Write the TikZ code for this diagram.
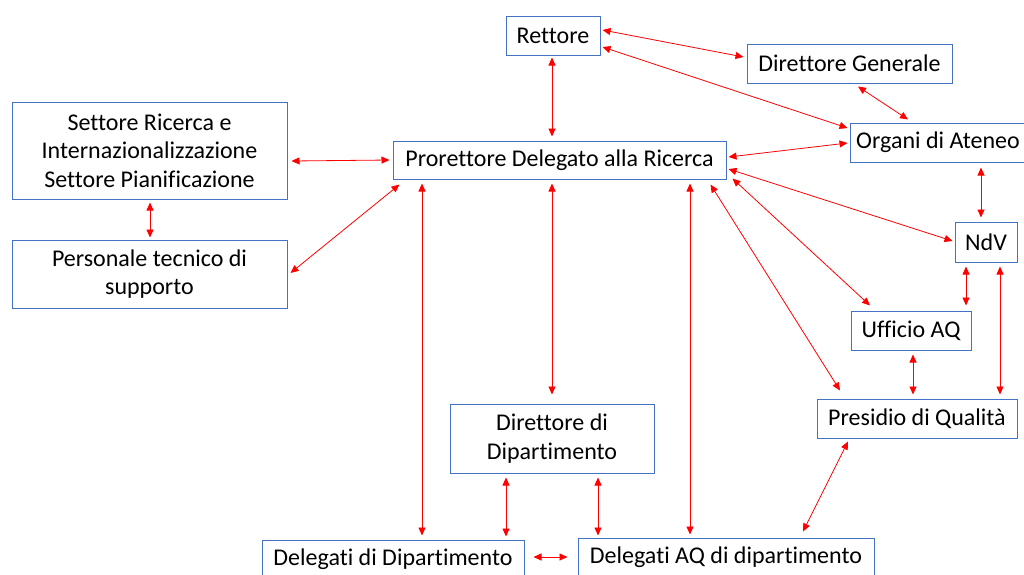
\documentclass[tikz,border=0pt]{standalone}
\usepackage{fontspec}
\setmainfont{Carlito}[Ligatures=NoCommon]
\usetikzlibrary{arrows.meta,calc}
\definecolor{boxblue}{RGB}{68,114,196}
\definecolor{arrred}{RGB}{255,0,0}
\tikzset{
  box/.style={draw=boxblue, line width=1pt, rectangle, inner sep=0pt, align=center,
    font=\fontsize{24}{28.5}\selectfont, text=black},
  link/.style={draw=arrred, line width=0.8pt,
    {Triangle[length=8pt,width=7pt]}-{Triangle[length=8pt,width=7pt]}}
}
\begin{document}
\begin{tikzpicture}[x=1pt,y=-1pt]
\useasboundingbox (0,0) rectangle (1024,574);
\clip (0,0) rectangle (1024,574);
\node[box, minimum width=94pt, minimum height=39pt] (rett) at (553,35.5) {Rettore};
\node[box, minimum width=205pt, minimum height=39pt] (dg) at (849.5,63.5) {Direttore Generale};
\node[box, minimum width=180pt, minimum height=39pt] (org) at (940,142.5) {Organi di Ateneo\hspace*{4pt}};
\node[box, minimum width=333pt, minimum height=38pt] (pro) at (559.5,160) {Prorettore Delegato alla Ricerca};
\node[box, minimum width=275pt, minimum height=97pt] (set) at (149.5,150.5) {Settore Ricerca e\\Internazionalizzazione\\Settore Pianificazione};
\node[box, minimum width=275pt, minimum height=68pt] (pers) at (149.5,274) {Personale tecnico di\\supporto};
\node[box, minimum width=62pt, minimum height=40pt] (ndv) at (986,242) {NdV};
\node[box, minimum width=120pt, minimum height=39pt] (uff) at (911,330.5) {Ufficio AQ};
\node[box, minimum width=200pt, minimum height=39pt] (pres) at (917,418.5) {Presidio di Qualità};
\node[box, minimum width=204pt, minimum height=69pt] (dir) at (552,438.5) {Direttore di\\Dipartimento};
\node[box, minimum width=262pt, minimum height=39pt] (dd) at (393,559.5) {Delegati di Dipartimento};
\node[box, minimum width=296pt, minimum height=39pt] (daq) at (726,557.5) {Delegati AQ di dipartimento};

\draw[link] ($(rett.east)+(2,-5.5)$) -- ($(dg.west)+(-3,-6.5)$);
\draw[link] ($(rett.east)+(2,11.5)$) -- ($(org.west)+(-2,-14.5)$);
\draw[link] ($(rett.south)+(-1,2)$) -- ($(pro.north)+(-7.5,-4)$);
\draw[link] ($(dg.south)+(8.5,3)$) -- ($(org.north)+(-32,-3)$);
\draw[link] ($(org.west)+(-2,0.5)$) -- ($(pro.east)+(2,-3)$);
\draw[link] ($(org.south)+(41,5)$) -- ($(ndv.north)+(-5,-4)$);
\draw[link] ($(pro.east)+(2,9)$) -- ($(ndv.west)+(-2,-1)$);
\draw[link] ($(pro.south east)+(6,-1)$) -- ($(uff.north)+(-41,-5)$);
\draw[link] ($(pro.south east)+(-16,5)$) -- ($(pres.north)+(-77,-8)$);
\draw[link] ($(pro.south)+(130.5,4)$) -- ($(daq.north)+(-36,-3)$);
\draw[link] ($(pro.south)+(-7.5,4)$) -- ($(dir.north)+(0,-9)$);
\draw[link] ($(pro.south)+(-137.5,4)$) -- ($(dd.north)+(29,-4)$);
\draw[link] ($(pro.west)+(-3,0)$) -- ($(set.east)+(4,10.5)$);
\draw[link] ($(pro.south west)+(7,5)$) -- ($(pers.east)+(3,-1)$);
\draw[link] ($(set.south)+(0.5,3)$) -- ($(pers.north)+(0.5,-2)$);
\draw[link] ($(ndv.south)+(-20,4)$) -- ($(uff.north)+(55,-5)$);
\draw[link] ($(ndv.south)+(14,4)$) -- ($(pres.north)+(83,-4)$);
\draw[link] ($(uff.south)+(2,4)$) -- ($(pres.north)+(-4,-4)$);
\draw[link] ($(pres.south)+(-69,3)$) -- ($(daq.north)+(77,-6)$);
\draw[link] ($(dir.south)+(-46,4)$) -- ($(dd.north)+(113,-3)$);
\draw[link] ($(dir.south)+(46,4)$) -- ($(daq.north)+(-128,-2)$);
\draw[link] ($(dd.east)+(9,-2.5)$) -- ($(daq.west)+(-10,-0.5)$);
\end{tikzpicture}
\end{document}
